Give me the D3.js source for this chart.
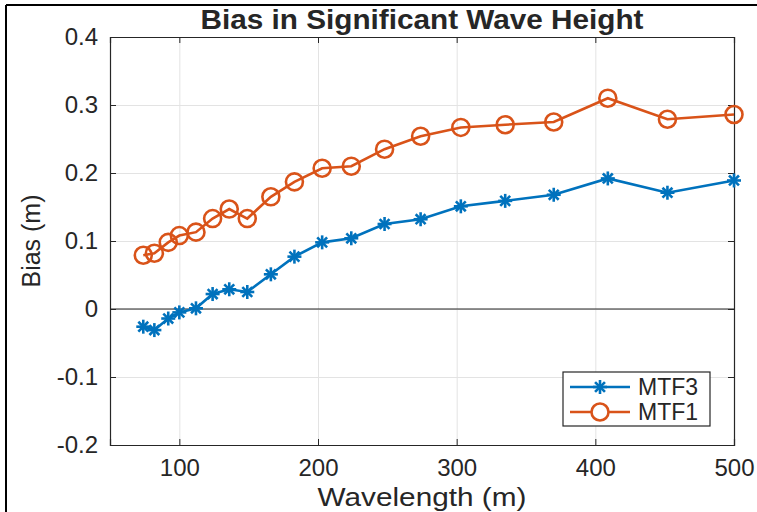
<!DOCTYPE html>
<html>
<head>
  <script src="https://d3js.org/d3.v7.min.js"></script>
  <style>
    body { margin: 0; background: #fff; }
    text { font-family: "Liberation Sans", Arial, sans-serif; fill: #262626; }
    .grid line { stroke: #e3e3e3; }
    .grid .domain { stroke: none; }
  </style>
</head>
<body>
<div id="chart"></div>
<script>
// wavelength (m)
const wavelength = [74, 82, 92, 100, 112, 124, 136, 149, 166, 183, 203, 224, 248, 274, 303, 335, 370, 409, 452, 500];
const mtf3 = [-0.026, -0.031, -0.014, -0.005, 0.001, 0.022, 0.029, 0.025, 0.051, 0.077, 0.098, 0.104, 0.125, 0.132, 0.151, 0.159, 0.168, 0.192, 0.171, 0.189];
const mtf1 = [0.079, 0.082, 0.098, 0.108, 0.113, 0.133, 0.147, 0.133, 0.165, 0.187, 0.207, 0.210, 0.235, 0.254, 0.267, 0.271, 0.275, 0.310, 0.279, 0.286];
const xTicks = [100, 200, 300, 400, 500];
const yTicks = [-0.2, -0.1, 0, 0.1, 0.2, 0.3, 0.4];
const seriesNames = ["MTF3", "MTF1"];

const width = 757, height = 512;
const margins = { top: 37, right: 23, bottom: 67, left: 110 };
const chartWidth = width - margins.left - margins.right;
const chartHeight = height - margins.top - margins.bottom;

const blue = "#0072BD", orange = "#D95319";

const svg = d3.select("#chart").append("svg")
  .attr("width", width)
  .attr("height", height);

// outer black frame (left and top edges visible)
svg.append("line").attr("x1", 6).attr("x2", 6).attr("y1", 5).attr("y2", height).attr("stroke", "#000").attr("stroke-width", 2);
svg.append("line").attr("x1", 6).attr("x2", width).attr("y1", 5).attr("y2", 5).attr("stroke", "#000").attr("stroke-width", 2);

const chartArea = svg.append("g")
  .attr("transform", `translate(${margins.left},${margins.top})`);

const xScale = d3.scaleLinear().domain([50, 500]).range([0, chartWidth]);
const yScale = d3.scaleLinear().domain([-0.2, 0.4]).range([chartHeight, 0]);

// gridlines
chartArea.append("g").attr("class", "grid")
  .call(d3.axisBottom(xScale).tickValues(xTicks).tickSize(chartHeight).tickFormat(""));
chartArea.append("g").attr("class", "grid")
  .call(d3.axisLeft(yScale).tickValues(yTicks).tickSize(-chartWidth).tickFormat(""));

// zero line
chartArea.append("line")
  .attr("x1", 0).attr("x2", chartWidth)
  .attr("y1", yScale(0)).attr("y2", yScale(0))
  .attr("stroke", "#262626").attr("stroke-width", 1.2);

// axes box
const fmtY = d => d === 0 ? "0" : d3.format(".1f")(d).replace("−", "-");
const xAxis = chartArea.append("g").attr("transform", `translate(0,${chartHeight})`)
  .call(d3.axisBottom(xScale).tickValues(xTicks).tickSize(-6).tickPadding(14));
const yAxis = chartArea.append("g")
  .call(d3.axisLeft(yScale).tickValues(yTicks).tickSize(-6).tickPadding(12).tickFormat(fmtY));
chartArea.append("g").attr("transform", `translate(${chartWidth},0)`)
  .call(d3.axisRight(yScale).tickValues(yTicks).tickSize(-6).tickFormat(""));
chartArea.append("g")
  .call(d3.axisTop(xScale).tickValues(xTicks).tickSize(-6).tickFormat(""));

chartArea.selectAll(".domain").attr("stroke", "#262626").attr("stroke-width", 1.2);
chartArea.selectAll(".tick line").filter(function() { return !this.closest(".grid"); })
  .attr("stroke", "#262626");
xAxis.selectAll("text").attr("font-size", 24).attr("fill", "#262626").attr("font-family", "Liberation Sans");
yAxis.selectAll("text").attr("font-size", 24).attr("fill", "#262626").attr("font-family", "Liberation Sans");

// lines
const line1 = d3.line().x((d, i) => xScale(wavelength[i])).y(d => yScale(d));
chartArea.append("path").datum(mtf3)
  .attr("fill", "none").attr("stroke", blue).attr("stroke-width", 2.6).attr("d", line1);
chartArea.append("path").datum(mtf1)
  .attr("fill", "none").attr("stroke", orange).attr("stroke-width", 2.6).attr("d", line1);

// asterisk marker
function asterisk(g, cx, cy, r) {
  const a = g.append("g").attr("transform", `translate(${cx},${cy})`);
  [0, 45, 90, 135].forEach(ang => {
    const rad = ang * Math.PI / 180;
    a.append("line")
      .attr("x1", -r * Math.cos(rad)).attr("y1", -r * Math.sin(rad))
      .attr("x2", r * Math.cos(rad)).attr("y2", r * Math.sin(rad))
      .attr("stroke", blue).attr("stroke-width", 2.6);
  });
}
mtf3.forEach((d, i) => asterisk(chartArea, xScale(wavelength[i]), yScale(d), 7));

mtf1.forEach((d, i) => {
  chartArea.append("circle")
    .attr("cx", xScale(wavelength[i])).attr("cy", yScale(d))
    .attr("r", 8.5).attr("fill", "none")
    .attr("stroke", orange).attr("stroke-width", 2.6);
});

// legend
const legend = chartArea.append("g")
  .attr("transform", "translate(453,335)");
legend.append("rect")
  .attr("width", 147).attr("height", 54)
  .attr("fill", "#fff").attr("stroke", "#262626").attr("stroke-width", 1.2);
[blue, orange].forEach((c, i) => {
  const yy = 15 + i * 25;
  legend.append("line").attr("x1", 7).attr("x2", 67).attr("y1", yy).attr("y2", yy)
    .attr("stroke", c).attr("stroke-width", 2.6);
  if (i === 0) asterisk(legend, 37, yy, 7);
  else legend.append("circle").attr("cx", 37).attr("cy", yy).attr("r", 8.5)
    .attr("fill", "#fff").attr("stroke", c).attr("stroke-width", 2.6);
  legend.append("text").attr("x", 75).attr("y", yy + 8)
    .attr("font-size", 23).text(seriesNames[i]);
});

// title and labels
svg.append("text").attr("x", 422).attr("y", 29)
  .attr("text-anchor", "middle").attr("font-size", 27).attr("font-weight", "bold")
  .attr("textLength", 443).attr("lengthAdjust", "spacingAndGlyphs")
  .attr("fill", "#000").text("Bias in Significant Wave Height");
svg.append("text").attr("x", 422).attr("y", 506)
  .attr("text-anchor", "middle").attr("font-size", 26)
  .attr("textLength", 209).attr("lengthAdjust", "spacingAndGlyphs")
  .text("Wavelength (m)");
svg.append("text")
  .attr("transform", `translate(40,${margins.top + chartHeight / 2}) rotate(-90)`)
  .attr("text-anchor", "middle").attr("font-size", 25).text("Bias (m)");
</script>
</body>
</html>
